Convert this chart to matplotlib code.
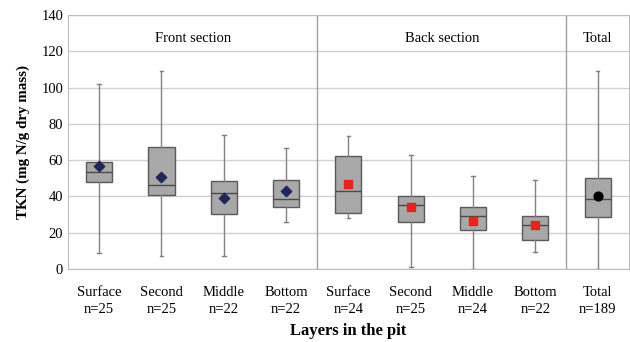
import numpy as np
import matplotlib
matplotlib.use("Agg")
import matplotlib.pyplot as plt

plt.rcParams['font.family'] = ['Liberation Serif', 'DejaVu Serif']

# Box statistics per layer (mg N/g dry mass)
layers = ["Surface", "Second", "Middle", "Bottom", "Surface", "Second", "Middle", "Bottom", "Total"]
counts = [25, 25, 22, 22, 24, 25, 24, 22, 189]
whislo = [8.7, 7.4, 7.4, 25.8, 28.0, 1.3, 0.0, 9.4, 0.0]
q1 = [47.8, 40.8, 30.3, 33.9, 30.8, 25.8, 21.4, 16.2, 28.6]
med = [53.5, 46.5, 41.9, 38.7, 42.8, 35.0, 29.0, 24.0, 38.6]
q3 = [59.0, 67.0, 48.3, 49.3, 62.1, 40.4, 34.3, 29.0, 50.2]
whishi = [102.0, 109.0, 73.8, 66.8, 73.2, 63.0, 51.5, 49.3, 109.0]
means = [56.6, 50.5, 39.3, 42.8, 46.9, 34.3, 26.6, 24.2, 40.4]

sections = ["Front section", "Back section", "Total"]

stats = []
for i in range(len(layers)):
    stats.append(dict(whislo=whislo[i], q1=q1[i], med=med[i], q3=q3[i],
                      whishi=whishi[i], fliers=[]))

fig = plt.figure(figsize=(6.3, 3.42), dpi=100)
ax = fig.add_axes([0.108, 0.2135, 0.89, 0.7425])

pos = np.arange(len(layers))
ax.bxp(stats, positions=pos, widths=0.42, showfliers=False, patch_artist=True,
       boxprops=dict(facecolor="#a8a8a8", edgecolor="#5a5a5a", linewidth=1.0),
       medianprops=dict(color="#4a4a4a", linewidth=1.0),
       whiskerprops=dict(color="#8a7e7e", linewidth=1.0),
       capprops=dict(color="#8a7e7e", linewidth=1.0), capwidths=0.06)

# mean markers: front, back, total
ax.scatter(pos[:4], means[:4], marker="D", s=28, color="#1f2658", zorder=4)
ax.scatter(pos[4:8], means[4:8], marker="s", s=40, color="#e8231e", zorder=4)
ax.scatter(pos[8:], means[8:], marker="o", s=40, color="black", zorder=4)

ax.set_xlim(-0.5, 8.5)
ax.set_ylim(0, 140)
ax.set_yticks(np.arange(0, 141, 20))
ax.yaxis.grid(True, color="#d0d0d0", linewidth=1.0)
ax.set_axisbelow(True)
ax.tick_params(length=0, labelsize=10.5)
ax.tick_params(axis="x", pad=12)
ax.set_xticks(pos)
ax.set_xticklabels([f"{l}\nn={n}" for l, n in zip(layers, counts)], linespacing=1.45)

for s in ax.spines.values():
    s.set_color("#bdbdbd")

ax.axvline(3.5, color="#a0a0a0", linewidth=1.0)
ax.axvline(7.5, color="#a0a0a0", linewidth=1.0)

ax.text(1.5, 127, sections[0], ha="center", va="center", fontsize=10.5)
ax.text(5.5, 127, sections[1], ha="center", va="center", fontsize=10.5)
ax.text(8.0, 127, sections[2], ha="center", va="center", fontsize=10.5)

ax.set_ylabel("TKN (mg N/g dry mass)", fontsize=10.8, fontweight="bold", labelpad=8)
ax.set_xlabel("Layers in the pit", fontsize=12, fontweight="bold", labelpad=5)

fig.savefig("out.png", dpi=100)
